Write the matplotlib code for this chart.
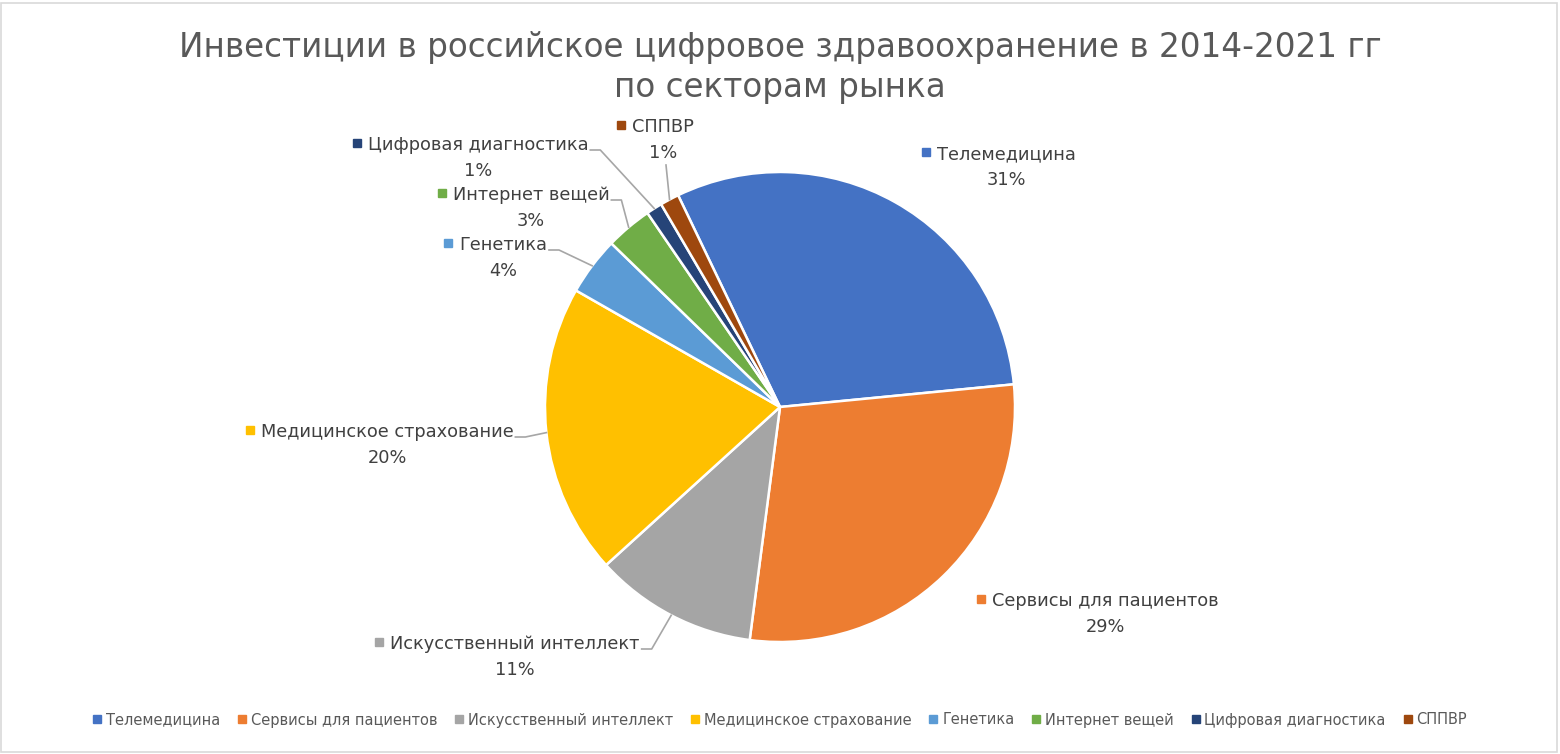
import matplotlib.pyplot as plt
from matplotlib.lines import Line2D
from matplotlib.patches import Rectangle
import numpy as np

sectors = ['Телемедицина', 'Сервисы для пациентов', 'Искусственный интеллект',
           'Медицинское страхование', 'Генетика', 'Интернет вещей',
           'Цифровая диагностика', 'СППВР']
shares = [30.6, 28.6, 11.2, 20.0, 4.0, 3.2, 1.1, 1.3]
colors = ['#4472C4', '#ED7D31', '#A5A5A5', '#FFC000',
          '#5B9BD5', '#70AD47', '#264478', '#9E480E']
title_lines = ['Инвестиции в российское цифровое здравоохранение в 2014-2021 гг',
               'по секторам рынка']

# layout in pixels of the picture (y from top)
W, H = 1560, 754
cx, cy, R = 780, 407, 235
lab_xy = [(1006, 154), (1105, 601), (515, 644), (387, 432),
          (503, 245), (531, 195), (478, 145), (663, 127)]
leader = [None, None, 'right', 'right', 'right', 'right', 'right', 'bottom']

plt.rcParams['font.family'] = ['DejaVu Sans']

fig = plt.figure(figsize=(15.6, 7.54), dpi=100)
ax = fig.add_axes([0, 0, 1, 1])
wedges, _ = ax.pie(shares, colors=colors, startangle=115.7, counterclock=False,
                   center=(cx, H - cy), radius=R,
                   wedgeprops=dict(edgecolor='white', linewidth=1.8))
ax.set_xlim(0, W)
ax.set_ylim(0, H)
ax.set_aspect('equal')
ax.axis('off')

# frame of the chart area
fig.patches.append(Rectangle((1 / W, 2 / H), 1 - 4 / W, 1 - 5 / H, transform=fig.transFigure,
                             fill=False, edgecolor='#D9D9D9', linewidth=1.2))

fig.text(0.5, 1 - 47 / H, title_lines[0], ha='center', va='center', fontsize=23.5, color='#595959')
fig.text(0.5, 1 - 88 / H, title_lines[1], ha='center', va='center', fontsize=23.5, color='#595959')

fig.canvas.draw()
rend = fig.canvas.get_renderer()
pct = np.array(shares) / sum(shares) * 100

for i, w in enumerate(wedges):
    x, y = lab_xy[i]
    t = ax.text(x, H - y, sectors[i], ha='center', va='center', fontsize=12.8, color='#404040')
    ax.text(x, H - y - 26, '%d%%' % round(pct[i]), ha='center', va='center',
            fontsize=12.8, color='#404040')
    bb = t.get_window_extent(rend)
    ax.plot(bb.x0 - 11, H - y + 2, marker='s', ms=5.5, color=colors[i], clip_on=False)

    if leader[i] is None:
        continue
    ang = np.deg2rad((w.theta1 + w.theta2) / 2)
    ex, ey = cx + R * np.cos(ang), H - cy + R * np.sin(ang)
    if leader[i] == 'right':
        xs = [bb.x1 + 2, bb.x1 + 12, ex]
        ys = [H - y - 5, H - y - 5, ey]
    else:
        xs = [x + 3, ex]
        ys = [H - y - 26 - 12, ey]
    ax.plot(xs, ys, color='#A6A6A6', linewidth=1.2, clip_on=False)

handles = [Line2D([], [], marker='s', linestyle='none', ms=5.5, color=c) for c in colors]
fig.legend(handles, sectors, loc='center', bbox_to_anchor=(0.5, 1 - 720 / H), ncol=8,
           frameon=False, fontsize=10.5, handlelength=0.6, handletextpad=0.3,
           columnspacing=1.2, labelcolor='#595959')

fig.savefig('out.png', dpi=100)
